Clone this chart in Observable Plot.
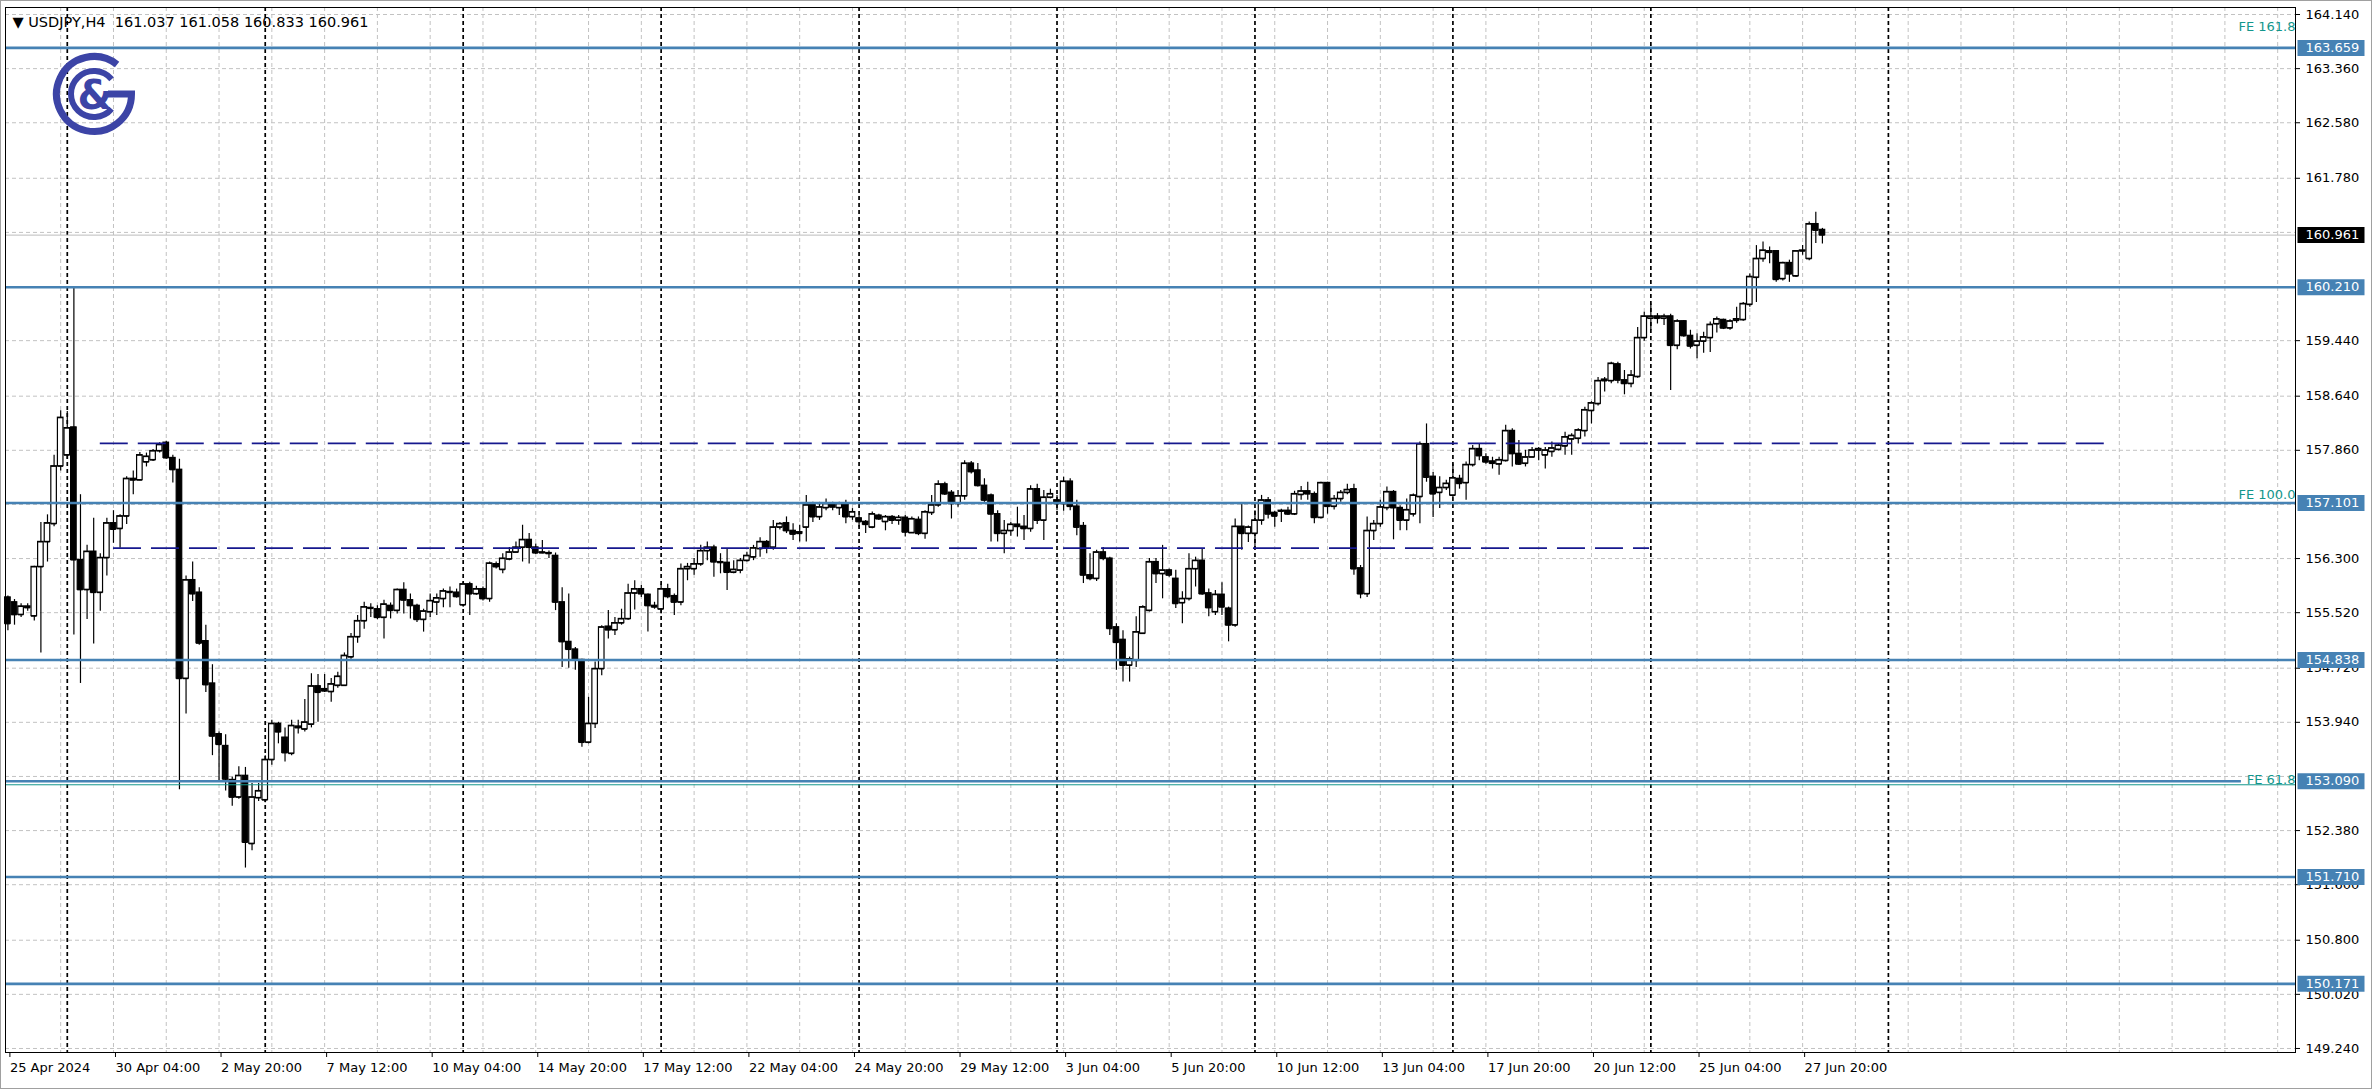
<!DOCTYPE html>
<html><head><meta charset="utf-8">
<script src="https://cdn.jsdelivr.net/npm/d3@7"></script>
<script src="https://cdn.jsdelivr.net/npm/@observablehq/plot@0.6"></script>
<style>
html,body{margin:0;padding:0;background:#fff;}
#chart{width:2372px;height:1089px;position:relative;}
</style></head><body><div id="chart"></div>
<script>
const symbol = "USDJPY";
const timeframe = "H4";
const opens = [155.74,155.67,155.49,155.61,155.47,156.18,156.54,156.80,157.63,157.79,158.19,156.28,155.85,156.40,155.81,156.31,156.81,156.73,156.91,157.45,157.43,157.69,157.72,157.85,157.97,157.75,157.58,154.57,155.99,155.81,155.11,154.50,153.77,153.60,153.11,152.86,153.17,152.19,152.85,152.82,153.40,153.92,153.72,153.49,153.88,153.84,153.91,154.46,154.42,154.38,154.47,154.47,154.88,155.17,155.40,155.58,155.57,155.45,155.62,155.55,155.85,155.70,155.62,155.42,155.53,155.67,155.72,155.82,155.81,155.63,155.93,155.79,155.86,155.72,156.22,156.14,156.29,156.39,156.46,156.57,156.46,156.39,156.38,156.34,155.67,155.10,154.99,154.84,153.65,153.92,154.71,155.32,155.27,155.37,155.43,155.80,155.86,155.78,155.62,155.57,155.86,155.76,155.67,156.15,156.15,156.22,156.41,156.46,156.25,156.24,156.10,156.13,156.27,156.32,156.44,156.54,156.46,156.75,156.81,156.70,156.68,156.75,157.07,156.90,157.03,157.09,157.03,157.09,156.90,156.88,156.83,156.75,156.92,156.83,156.90,156.85,156.89,156.67,156.86,156.66,156.96,157.07,157.37,157.25,157.09,157.20,157.67,157.57,157.35,157.21,156.94,156.66,156.70,156.79,156.76,156.73,157.30,156.85,157.18,157.14,157.09,157.41,157.05,156.77,156.06,156.01,156.39,156.30,155.31,155.13,154.76,154.83,155.22,155.55,156.25,156.08,156.13,156.01,155.66,155.72,156.15,156.27,155.80,155.53,155.78,155.58,155.34,156.76,156.66,156.66,156.85,157.14,156.96,156.99,156.99,156.94,157.22,157.27,157.23,156.89,157.39,157.05,157.16,157.25,157.30,156.16,155.79,156.70,156.80,157.03,157.26,157.03,156.85,156.94,157.19,157.95,157.48,157.25,157.32,157.21,157.45,157.39,157.65,157.88,157.76,157.70,157.66,157.71,158.14,157.81,157.67,157.76,157.86,157.79,157.84,157.87,157.92,158.02,158.03,158.14,158.43,158.53,158.86,158.86,159.10,158.87,158.82,158.92,159.48,159.76,159.79,159.76,159.79,159.37,159.72,159.51,159.37,159.43,159.48,159.68,159.74,159.62,159.73,159.74,159.96,160.35,160.62,160.71,160.73,160.33,160.56,160.37,160.73,160.62,161.12,161.037];
const highs = [155.76,155.71,155.65,155.65,156.19,156.82,156.93,157.79,158.43,158.42,160.21,157.22,156.49,156.88,156.37,156.88,156.99,156.93,157.48,157.56,157.83,157.82,157.87,157.97,157.99,157.79,157.73,156.05,156.25,155.88,155.34,154.77,153.80,153.76,153.15,153.30,153.29,153.06,153.06,153.46,153.97,153.94,153.86,153.97,153.97,154.27,154.64,154.63,154.63,154.57,154.66,154.94,155.22,155.48,155.67,155.65,155.62,155.70,155.66,155.86,155.95,155.79,155.64,155.57,155.79,155.79,155.86,155.89,155.86,155.96,155.96,155.90,155.89,156.25,156.25,156.37,156.46,156.54,156.78,156.66,156.51,156.56,156.41,156.38,155.88,155.79,155.02,154.85,154.30,154.81,155.33,155.55,155.45,155.57,155.93,155.98,155.91,155.79,155.67,155.93,155.93,155.79,156.22,156.23,156.30,156.49,156.54,156.49,156.37,156.44,156.27,156.30,156.39,156.49,156.60,156.56,156.85,156.82,156.90,156.80,156.78,157.21,157.11,157.11,157.16,157.11,157.11,157.14,157.02,156.92,156.85,156.97,156.94,156.92,156.92,156.92,156.92,156.90,156.90,156.99,157.21,157.42,157.40,157.28,157.28,157.71,157.70,157.67,157.45,157.23,156.99,156.85,156.82,157.04,156.92,157.35,157.37,157.28,157.30,157.21,157.47,157.45,157.14,156.82,156.37,156.42,156.46,156.32,155.36,155.26,154.88,155.46,155.62,156.30,156.30,156.49,156.15,156.13,155.82,156.37,156.32,156.44,155.86,155.84,155.95,155.60,156.87,157.09,156.77,156.99,157.21,157.18,156.98,157.01,157.04,157.27,157.34,157.40,157.26,157.40,157.40,157.21,157.28,157.37,157.37,156.20,156.90,156.85,157.14,157.33,157.28,157.06,157.16,157.23,157.98,158.24,157.54,157.48,157.43,157.66,157.50,157.69,157.93,157.95,157.81,157.76,157.76,158.22,158.17,158.00,157.86,157.90,157.90,157.90,157.98,157.95,158.12,158.10,158.17,158.48,158.56,158.91,158.91,159.13,159.13,159.01,159.01,159.63,159.85,159.97,159.83,159.82,159.82,159.74,159.73,159.59,159.54,159.56,159.71,159.78,159.75,159.74,159.92,159.99,160.40,160.81,160.86,160.79,160.74,160.57,160.60,160.74,160.81,161.15,161.29,161.058];
const lows = [155.26,155.34,155.45,155.54,155.40,154.94,156.25,156.76,157.56,157.73,155.20,154.50,155.42,155.07,155.54,156.05,156.52,156.45,156.79,157.22,157.42,157.62,157.70,157.82,157.73,157.39,152.97,154.06,155.68,155.05,154.37,153.46,153.09,152.95,152.73,152.83,151.84,152.09,152.80,152.78,153.32,153.63,153.37,153.46,153.77,153.80,153.86,153.94,154.37,154.23,154.43,154.46,154.85,155.08,155.28,155.45,155.42,155.14,155.43,155.50,155.50,155.43,155.38,155.24,155.45,155.48,155.59,155.59,155.73,155.60,155.48,155.77,155.69,155.67,156.15,156.08,156.27,156.39,156.25,156.22,156.36,156.37,156.30,155.55,154.73,154.72,154.69,153.58,153.63,153.85,154.61,155.14,155.19,155.34,155.41,155.56,155.74,155.24,155.57,155.50,155.72,155.48,155.62,155.98,156.06,156.19,156.27,156.03,156.08,155.84,156.08,156.08,156.25,156.27,156.32,156.37,156.42,156.71,156.66,156.56,156.54,156.54,156.82,156.85,156.99,156.99,156.92,156.80,156.85,156.75,156.66,156.73,156.85,156.70,156.79,156.78,156.61,156.66,156.63,156.58,156.92,157.04,157.21,156.87,157.04,157.14,157.52,157.33,157.11,156.54,156.54,156.37,156.62,156.61,156.56,156.68,156.79,156.56,157.16,156.99,156.98,156.99,156.63,155.94,155.98,155.97,156.27,155.19,154.69,154.52,154.52,154.73,155.21,155.53,155.94,155.72,156.03,155.58,155.36,155.69,155.89,155.77,155.46,155.48,155.48,155.10,155.31,156.42,156.53,156.46,156.78,156.87,156.75,156.82,156.92,156.92,157.14,157.14,156.80,156.87,156.94,157.00,157.11,157.22,156.06,155.72,155.74,156.56,156.75,156.99,156.57,156.70,156.70,156.90,156.80,157.40,156.89,157.02,157.28,157.18,157.30,157.14,157.62,157.71,157.66,157.59,157.50,157.69,157.62,157.64,157.62,157.76,157.71,157.59,157.76,157.85,157.79,157.79,157.95,158.05,158.24,158.50,158.70,158.82,158.82,158.66,158.76,158.90,159.43,159.59,159.68,159.66,158.72,159.31,159.49,159.32,159.18,159.26,159.27,159.55,159.60,159.59,159.69,159.72,159.92,159.99,160.57,160.55,160.28,160.30,160.28,160.35,160.67,160.59,160.84,160.833];
const closes = [155.36,155.49,155.61,155.59,156.18,156.54,156.81,157.63,158.33,158.18,156.28,155.85,156.40,155.81,156.31,156.81,156.72,156.91,157.45,157.43,157.79,157.77,157.85,157.94,157.75,157.58,154.57,155.99,155.79,155.08,154.48,153.74,153.62,153.12,152.86,153.17,152.21,152.86,152.95,153.40,153.92,153.80,153.50,153.89,153.86,153.94,154.46,154.37,154.39,154.49,154.60,154.90,155.17,155.40,155.60,155.59,155.45,155.64,155.55,155.85,155.70,155.62,155.42,155.54,155.69,155.73,155.83,155.81,155.75,155.93,155.79,155.86,155.72,156.23,156.18,156.30,156.39,156.46,156.57,156.46,156.38,156.38,156.37,155.67,155.10,154.99,154.85,153.65,153.92,154.71,155.31,155.27,155.37,155.43,155.80,155.86,155.79,155.62,155.60,155.86,155.75,155.67,156.15,156.18,156.22,156.41,156.46,156.25,156.24,156.10,156.14,156.27,156.34,156.45,156.54,156.46,156.75,156.80,156.70,156.65,156.66,157.07,156.90,157.04,157.09,157.04,157.09,156.90,156.97,156.83,156.79,156.94,156.87,156.90,156.85,156.89,156.68,156.87,156.66,156.97,157.07,157.37,157.23,157.09,157.20,157.67,157.55,157.35,157.14,156.94,156.66,156.70,156.79,156.76,156.73,157.30,156.85,157.18,157.23,157.09,157.41,157.05,156.75,156.06,156.01,156.39,156.30,155.29,155.09,154.76,154.85,155.24,155.60,156.25,156.08,156.13,156.06,155.65,155.72,156.15,156.27,155.79,155.59,155.78,155.60,155.34,156.76,156.66,156.75,156.85,157.14,156.94,156.91,156.98,156.94,157.23,157.27,157.23,156.89,157.39,157.05,157.16,157.25,157.29,156.15,155.79,156.70,156.80,157.04,157.26,157.03,156.85,157.00,157.21,157.95,157.47,157.23,157.32,157.38,157.46,157.38,157.65,157.88,157.78,157.69,157.67,157.72,158.14,157.81,157.66,157.76,157.86,157.88,157.86,157.89,157.93,158.05,158.07,158.15,158.44,158.54,158.86,158.88,159.11,158.87,158.82,158.94,159.48,159.79,159.79,159.76,159.79,159.37,159.72,159.51,159.36,159.43,159.49,159.67,159.75,159.62,159.72,159.75,159.97,160.36,160.62,160.74,160.73,160.32,160.56,160.40,160.73,160.74,161.12,161.03,160.961];

const priceTicks = [149.24,150.02,150.80,151.60,152.38,153.16,153.94,154.72,155.52,156.30,157.08,157.86,158.64,159.44,160.22,161.00,161.78,162.58,163.36,164.14];
const hiddenPriceTicks = [161.00,160.22,157.08,153.16];
const timeTickBars = [0,16,32,48,64,80,96,112,128,144,160,176,192,208,224,240,256,272];
const timeTickLabels = ["25 Apr 2024","30 Apr 04:00","2 May 20:00","7 May 12:00","10 May 04:00","14 May 20:00","17 May 12:00","22 May 04:00","24 May 20:00","29 May 12:00","3 Jun 04:00","5 Jun 20:00","10 Jun 12:00","13 Jun 04:00","17 Jun 20:00","20 Jun 12:00","25 Jun 04:00","27 Jun 20:00"];
const gridStepBars = 8;
const weekSeparatorBars = [9,39,69,99,129,159,189,219,249,285];
const levelPrices = [163.659,160.210,157.101,154.838,153.090,151.710,150.171];
const levelEndBars = [null,null,null,null,338.5,null,null];
const currentPrice = 160.961;
const feLabels = ["FE 161.8","FE 100.0","FE 61.8"];
const feLabelPrices = [163.908,157.165,153.058];
const feLinePrices = [153.04];
const dashedPrices = [157.96,156.45];
const dashedStartBars = [14,16];
const dashedEndBars = [318.7,248.8];

const W = 2372, H = 1089;
const xDomain = [-0.364, 346.7];
const yDomain = [149.182, 164.241];
const FONT = "'DejaVu Sans', sans-serif";
const BLUE = "#4682b4", TEAL = "#13968c", NAVY = "#16188e", GRID = "#c2c2c2";

const bars = opens.map((o, i) => ({i, o, h: highs[i], l: lows[i], c: closes[i]}));
const up = bars.filter(d => d.c >= d.o);
const down = bars.filter(d => d.c < d.o);
const half = 0.42;
const gridBars = d3.range(gridStepBars, xDomain[1], gridStepBars);
const levels = levelPrices.map((p, k) => ({price: p, end: levelEndBars[k]}));
const fullLevels = levels.filter(d => d.end == null);
const partLevels = levels.filter(d => d.end != null);
const dashed = dashedPrices.map((p, k) => ({price: p, x1: dashedStartBars[k], x2: dashedEndBars[k]}));
const fe = feLabels.map((t, k) => ({label: t, price: feLabelPrices[k]}));
const labelByBar = new Map(timeTickBars.map((b, k) => [b, timeTickLabels[k]]));
const visibleTicks = priceTicks.filter(t => !hiddenPriceTicks.includes(t));
const last = bars[bars.length - 1];
const title = "\u25BC\u00A0" + symbol + "," + timeframe + "\u00A0\u00A0" +
  [last.o, last.h, last.l, last.c].map(v => v.toFixed(3)).join("\u00A0");

const boxSymbol = {draw(ctx) { ctx.moveTo(-33, -8); ctx.lineTo(34, -8); ctx.lineTo(34, 8); ctx.lineTo(-33, 8); ctx.closePath(); }};

const chart = Plot.plot({
  width: W, height: H,
  marginLeft: 5, marginRight: 77, marginTop: 7, marginBottom: 37,
  style: {fontFamily: FONT, fontSize: "13px", background: "white", overflow: "visible"},
  x: {type: "linear", domain: xDomain, axis: null},
  y: {type: "linear", domain: yDomain, axis: null},
  marks: [
    Plot.ruleY(priceTicks, {stroke: GRID, strokeDasharray: "4,3"}),
    Plot.ruleX(gridBars, {stroke: GRID, strokeDasharray: "4,3"}),
    Plot.ruleX(weekSeparatorBars, {stroke: "#000", strokeWidth: 1.7, strokeDasharray: "4,3"}),
    Plot.ruleY([currentPrice], {stroke: "#bdbdbd", strokeWidth: 1}),
    Plot.ruleX(bars, {x: "i", y1: "l", y2: "h", stroke: "#000", strokeWidth: 1.2}),
    Plot.rect(up, {x1: d => d.i - half, x2: d => d.i + half, y1: "o", y2: "c", fill: "white", stroke: "#000", strokeWidth: 1.2}),
    Plot.rect(down, {x1: d => d.i - half, x2: d => d.i + half, y1: "o", y2: "c", fill: "#000", stroke: "#000", strokeWidth: 1.2}),
    Plot.ruleY(bars, {y: "c", x1: d => d.i - half, x2: d => d.i + half, stroke: "#000", strokeWidth: 1.2}),
    Plot.ruleY(bars, {y: "o", x1: d => d.i - half, x2: d => d.i + half, stroke: "#000", strokeWidth: 1.2}),
    Plot.ruleY(feLinePrices, {stroke: TEAL, strokeWidth: 1}),
    Plot.ruleY(fullLevels, {y: "price", stroke: BLUE, strokeWidth: 2.6}),
    Plot.ruleY(partLevels, {y: "price", x1: xDomain[0], x2: "end", stroke: BLUE, strokeWidth: 2.6}),
    Plot.ruleY(dashed, {y: "price", x1: "x1", x2: "x2", stroke: NAVY, strokeWidth: 1.7, strokeDasharray: "28,10"}),
    Plot.text(fe, {y: "price", text: "label", frameAnchor: "right", textAnchor: "end", lineAnchor: "bottom", fill: TEAL, fontSize: 13}),
    Plot.frame({stroke: "#000", strokeWidth: 1}),
    Plot.axisY(visibleTicks, {anchor: "right", tickSize: 4, tickPadding: 6, tickFormat: d => d.toFixed(3), fontSize: 13, fill: "#000", stroke: "#000"}),
    Plot.dot(levels, {y: "price", frameAnchor: "right", dx: 35, symbol: boxSymbol, r: 1, fill: BLUE, stroke: null}),
    Plot.dot([currentPrice], {y: d => d, frameAnchor: "right", dx: 35, symbol: boxSymbol, r: 1, fill: "#000", stroke: null}),
    Plot.text(levels, {y: "price", text: d => d.price.toFixed(3), frameAnchor: "right", dx: 10, textAnchor: "start", fill: "white", fontSize: 13}),
    Plot.text([currentPrice], {y: d => d, text: d => d.toFixed(3), frameAnchor: "right", dx: 10, textAnchor: "start", fill: "white", fontSize: 13}),
    Plot.axisX(timeTickBars, {anchor: "bottom", tickSize: 5, tickPadding: 5, tickFormat: d => labelByBar.get(d), textAnchor: "start", dx: 2, fontSize: 13, fill: "#000", stroke: "#000"}),
    Plot.text([title], {text: d => d, frameAnchor: "top-left", dx: 7, dy: 15, lineAnchor: "middle", textAnchor: "start", fontSize: 14.5, fill: "#000"})
  ]
});
document.getElementById("chart").appendChild(chart);

// logo
const svg = d3.select(chart);
const LC = "#3c44a6";
const cx = 94, cy = 94, R = 37.5, r2 = 23;
const pt = (rad, deg) => [cx + rad * Math.cos(deg * Math.PI / 180), cy + rad * Math.sin(deg * Math.PI / 180)];
const g = svg.append("g").attr("fill", "none").attr("stroke", LC);
const a0 = pt(R, -52), a1 = pt(R, 0);
g.append("path").attr("stroke-width", 7)
  .attr("d", `M${a0[0]},${a0[1]} A${R},${R} 0 1 0 ${a1[0]},${a1[1]} L${cx + 14},${cy}`);
const b0 = pt(r2, -40), b1 = pt(r2, 40);
g.append("path").attr("stroke-width", 6)
  .attr("d", `M${b0[0]},${b0[1]} A${r2},${r2} 0 1 0 ${b1[0]},${b1[1]}`);
svg.append("text").attr("x", cx + 1).attr("y", cy + 1).attr("text-anchor", "middle")
  .attr("dominant-baseline", "central").attr("font-family", FONT).attr("font-weight", "bold")
  .attr("font-size", 40).attr("fill", LC).text("&");
// window edge
svg.append("rect").attr("x", 0.5).attr("y", 0.5).attr("width", W - 1).attr("height", H - 1)
  .attr("fill", "none").attr("stroke", "#a0a0a0");
</script></body></html>
